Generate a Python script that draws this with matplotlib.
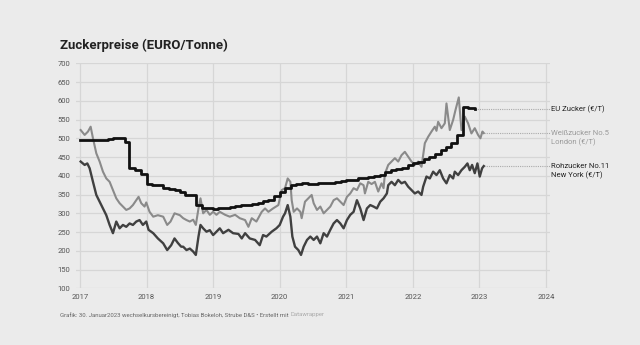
import matplotlib.pyplot as plt
import numpy as np

plt.rcParams['font.family'] = ['Roboto', 'DejaVu Sans']

# EU Zucker, monatliche Stufen (Jahr als Dezimalzahl)
eu_zeit = [2017.00, 2017.08, 2017.17, 2017.25, 2017.33, 2017.42, 2017.50, 2017.58,
           2017.67, 2017.74, 2017.83, 2017.92,
           2018.00, 2018.08, 2018.17, 2018.25, 2018.33, 2018.42, 2018.50, 2018.58,
           2018.67, 2018.75, 2018.83, 2018.92,
           2019.00, 2019.08, 2019.17, 2019.25, 2019.33, 2019.42, 2019.50, 2019.58,
           2019.67, 2019.75, 2019.83, 2019.92,
           2020.00, 2020.08, 2020.17, 2020.25, 2020.33, 2020.42, 2020.50, 2020.58,
           2020.67, 2020.75, 2020.83, 2020.92,
           2021.00, 2021.08, 2021.17, 2021.25, 2021.33, 2021.42, 2021.50, 2021.58,
           2021.67, 2021.75, 2021.83, 2021.92,
           2022.00, 2022.08, 2022.17, 2022.25, 2022.33, 2022.42, 2022.50, 2022.58,
           2022.67, 2022.75, 2022.83, 2022.93]
eu_preis = [495, 495, 495, 495, 495, 497, 500, 500, 490, 420, 415, 405,
            378, 375, 375, 368, 365, 362, 358, 348, 348, 322, 315, 313,
            312, 313, 315, 318, 320, 322, 322, 326, 328, 332, 336, 345,
            358, 368, 375, 378, 380, 378, 378, 380, 380, 382, 384, 385,
            388, 390, 393, 395, 397, 400, 403, 410, 415, 418, 422, 428,
            433, 438, 445, 451, 458, 468, 478, 487, 510, 584, 580, 578]

# Weißzucker No.5 London
weiss_zeit = [2017.01, 2017.07, 2017.12, 2017.16, 2017.195, 2017.245, 2017.295, 2017.345,
              2017.395, 2017.445, 2017.495, 2017.545, 2017.595, 2017.645, 2017.695, 2017.745,
              2017.795, 2017.845, 2017.88, 2017.92, 2017.97, 2017.995, 2018.045, 2018.10,
              2018.17, 2018.25, 2018.31, 2018.36, 2018.42, 2018.50, 2018.55, 2018.60,
              2018.65, 2018.70, 2018.74, 2018.78, 2018.81, 2018.85, 2018.90, 2018.95,
              2019.00, 2019.05, 2019.10, 2019.18, 2019.25, 2019.33, 2019.40, 2019.48,
              2019.53, 2019.58, 2019.65, 2019.73, 2019.78, 2019.83, 2019.90, 2019.98,
              2020.03, 2020.08, 2020.12, 2020.16, 2020.18, 2020.21, 2020.26, 2020.31,
              2020.33, 2020.38, 2020.43, 2020.48, 2020.51, 2020.56, 2020.61, 2020.66,
              2020.71, 2020.76, 2020.81, 2020.86, 2020.91, 2020.96, 2021.01, 2021.06,
              2021.11, 2021.16, 2021.21, 2021.26, 2021.28, 2021.33, 2021.38, 2021.43,
              2021.48, 2021.53, 2021.56, 2021.58, 2021.63, 2021.68, 2021.73, 2021.78,
              2021.83, 2021.88, 2021.93, 2021.98, 2022.03, 2022.08, 2022.13, 2022.155,
              2022.18, 2022.23, 2022.28, 2022.33, 2022.355, 2022.38, 2022.43, 2022.48,
              2022.505, 2022.555, 2022.605, 2022.64, 2022.69, 2022.73, 2022.78, 2022.83,
              2022.88, 2022.93, 2022.98, 2023.015, 2023.045, 2023.065]
weiss_preis = [522, 509, 518, 531, 500, 460, 438, 411,
               393, 384, 362, 340, 327, 318, 309, 313,
               322, 335, 344, 327, 318, 329, 304, 291,
               295, 291, 269, 278, 300, 295, 287, 282,
               278, 283, 269, 313, 340, 300, 309, 296,
               304, 296, 304, 296, 291, 296, 287, 282,
               264, 287, 278, 304, 313, 304, 313, 322,
               362, 367, 393, 384, 335, 304, 313, 304,
               287, 331, 340, 349, 327, 309, 318, 300,
               309, 318, 335, 340, 331, 322, 344, 353,
               367, 362, 380, 375, 353, 384, 378, 384,
               358, 380, 367, 405, 429, 438, 447, 438,
               455, 464, 451, 438, 429, 438, 424, 455,
               487, 504, 518, 531, 520, 544, 527, 540,
               593, 522, 549, 575, 609, 522, 558, 540,
               513, 527, 509, 500, 518, 514]

# Rohzucker No.11 New York
roh_zeit = [2017.01, 2017.07, 2017.11, 2017.145, 2017.195, 2017.245, 2017.295, 2017.345,
            2017.395, 2017.445, 2017.495, 2017.545, 2017.595, 2017.645, 2017.695, 2017.745,
            2017.795, 2017.845, 2017.895, 2017.945, 2017.995, 2018.03, 2018.10, 2018.17,
            2018.25, 2018.31, 2018.37, 2018.42, 2018.47, 2018.52, 2018.55, 2018.60,
            2018.65, 2018.70, 2018.74, 2018.78, 2018.81, 2018.85, 2018.90, 2018.95,
            2019.00, 2019.05, 2019.10, 2019.15, 2019.23, 2019.30, 2019.38, 2019.43,
            2019.48, 2019.55, 2019.63, 2019.70, 2019.75, 2019.80, 2019.88, 2019.95,
            2020.00, 2020.05, 2020.08, 2020.12, 2020.16, 2020.19, 2020.23, 2020.28,
            2020.32, 2020.36, 2020.41, 2020.46, 2020.51, 2020.56, 2020.61, 2020.66,
            2020.71, 2020.76, 2020.81, 2020.86, 2020.91, 2020.96, 2021.01, 2021.06,
            2021.11, 2021.16, 2021.21, 2021.26, 2021.31, 2021.36, 2021.41, 2021.46,
            2021.51, 2021.56, 2021.61, 2021.63, 2021.68, 2021.73, 2021.78, 2021.83,
            2021.88, 2021.93, 2021.98, 2022.03, 2022.08, 2022.13, 2022.155, 2022.205,
            2022.255, 2022.305, 2022.355, 2022.405, 2022.455, 2022.505, 2022.555, 2022.605,
            2022.63, 2022.68, 2022.73, 2022.78, 2022.82, 2022.855, 2022.89, 2022.93,
            2022.97, 2023.005, 2023.04, 2023.065]
roh_preis = [438, 429, 433, 420, 384, 349, 331, 313,
             295, 269, 247, 278, 260, 269, 264, 273,
             269, 278, 282, 269, 278, 256, 247, 233,
             220, 202, 215, 233, 221, 211, 211, 202,
             206, 198, 189, 238, 269, 260, 251, 255,
             242, 251, 260, 247, 256, 247, 245, 233,
             247, 233, 229, 215, 242, 238, 251, 260,
             269, 291, 300, 322, 291, 238, 211, 202,
             189, 211, 229, 238, 229, 238, 220, 247,
             238, 256, 273, 282, 273, 260, 282, 296,
             304, 335, 313, 282, 313, 322, 318, 313,
             331, 340, 353, 375, 384, 375, 389, 380,
             384, 371, 362, 353, 358, 349, 371, 398,
             393, 411, 402, 415, 393, 380, 402, 393,
             411, 402, 415, 424, 433, 415, 429, 407,
             433, 398, 420, 426]

jahre = np.arange(2017, 2025)
y_ticks = np.arange(100, 701, 50)

bg = '#ebebeb'
fig = plt.figure(figsize=(6.4, 3.45), dpi=100, facecolor=bg)
ax = fig.add_axes([0.11875, 0.1643, 0.7406, 0.6522], facecolor=bg)

ax.plot(weiss_zeit, weiss_preis, color='#8a8a8a', lw=1.5, zorder=3)
ax.plot(roh_zeit, roh_preis, color='#404040', lw=1.7, zorder=4)
ax.plot(eu_zeit, eu_preis, color='#111111', lw=2.0, drawstyle='steps-post', zorder=5)

ax.set_xlim(2016.94, 2024.06)
ax.set_ylim(100, 700)
ax.set_xticks(jahre)
ax.set_xticklabels([str(j) for j in jahre])
ax.set_yticks(y_ticks)
ax.grid(True, color='#d6d6d6', lw=0.9)
ax.set_axisbelow(True)
for s in ax.spines.values():
    s.set_visible(False)
ax.tick_params(length=0, labelsize=5.5, colors='#555555', pad=4)

# Beschriftungen rechts mit gepunkteten Verbindungslinien
x_lab = 2024.08
ende = [(eu_zeit[-1], eu_preis[-1], 'EU Zucker (€/T)', '#222222'),
        (weiss_zeit[-1], weiss_preis[-1], 'Weißzucker No.5\nLondon (€/T)', '#9a9a9a'),
        (roh_zeit[-1], roh_preis[-1], 'Rohzucker No.11\nNew York (€/T)', '#222222')]
for x0, y0, txt, col in ende:
    ax.plot([x0, 2024.06], [y0, y0], color='#aaaaaa', lw=0.8, ls=(0, (1, 1)),
            clip_on=False, zorder=2)
    ax.text(x_lab, y0 + 9, txt, color=col, fontsize=5.5, va='top', ha='left',
            linespacing=1.5, clip_on=False)

fig.text(0.094, 0.868, 'Zuckerpreise (EURO/Tonne)', fontsize=9.5, fontweight='bold',
         color='#222222', va='center', ha='left')

quelle = fig.text(0.094, 0.087,
                  'Grafik: 30. Januar2023 wechselkursbereinigt, Tobias Bokeloh, Strube D&S • Erstellt mit ',
                  fontsize=4.3, color='#666666', va='center', ha='left')
fig.canvas.draw()
bb = quelle.get_window_extent()
fig.text(bb.x1 / fig.bbox.width, 0.087, 'Datawrapper', fontsize=4.3, color='#aaaaaa',
         va='center', ha='left')

fig.savefig('out.png', dpi=100, facecolor=bg)
